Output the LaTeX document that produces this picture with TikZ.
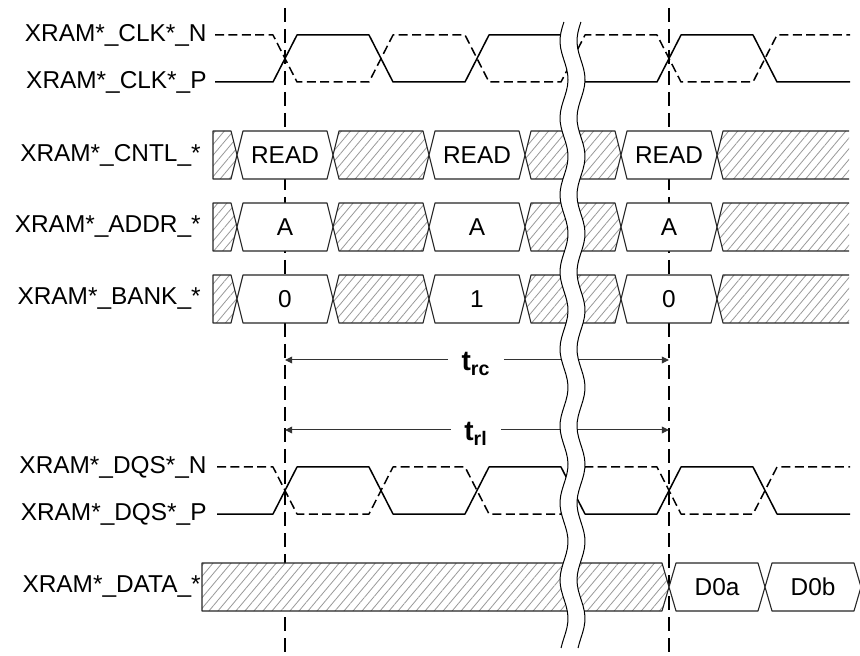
\documentclass[tikz,border=0pt]{standalone}
\usepackage{fontspec}
\setmainfont{Liberation Sans}
\usetikzlibrary{arrows.meta,patterns.meta}

\tikzset{
  sig/.style={line width=0.75pt, line join=round},
  sigdash/.style={sig, dash pattern=on 4.5pt off 2.2pt},
  marker/.style={line width=0.8pt, dash pattern=on 7pt off 3.5pt},
  hatch/.style={preaction={fill=white}, pattern={Lines[angle=50,distance=3.45pt,line width=0.4pt]}, pattern color=gray!80},
  busline/.style={line width=0.55pt, black!85, line join=round, fill=white},
  lbl/.style={anchor=east, inner sep=0pt, font=\fontsize{12.2}{14}\selectfont},
  val/.style={inner sep=0pt, font=\fontsize{12.2}{14}\selectfont},
  tlbl/.style={inner xsep=6.5pt, inner ysep=0pt, font=\fontsize{14}{16}\selectfont\bfseries},
  tarrow/.style={line width=0.5pt, black!80, -{Triangle[length=3.6pt,width=3.4pt]}},
}

% bus segment: start, end, centre, half width of the edge, style
\newcommand{\busseg}[5]{%
  \draw[busline,#5] (#1,#3) -- ({#1+#4},{#3-24}) -- ({#2-#4},{#3-24}) -- (#2,#3)
    -- ({#2-#4},{#3+24}) -- ({#1+#4},{#3+24}) -- cycle;}

% clock pair: top level, bottom level, first x
\newcommand{\clkpair}[3]{%
  \draw[sigdash] (#3,#1) -- (273,#1) -- (297,#2) -- (369,#2) -- (393,#1) -- (465,#1)
    -- (489,#2) -- (561,#2) -- (585,#1) -- (657,#1) -- (681,#2) -- (753,#2)
    -- (777,#1) -- (850,#1);
  \draw[sig] (#3,#2) -- (273,#2) -- (297,#1) -- (369,#1) -- (393,#2) -- (465,#2)
    -- (489,#1) -- (561,#1) -- (585,#2) -- (657,#2) -- (681,#1) -- (753,#1)
    -- (777,#2) -- (850,#2);}

\begin{document}
\begin{tikzpicture}[x=0.5pt, y=-0.5pt]
    \useasboundingbox (0,0) rectangle (860,656);

    % Labels
    \node[lbl] (clkn) at (207,35) {XRAM*\_CLK*\_N};
    \node[lbl] (clkp) at (207,82) {XRAM*\_CLK*\_P};
    \node[lbl] (cntl) at (201,155) {XRAM*\_CNTL\_*};
    \node[lbl] (addr) at (201,227) {XRAM*\_ADDR\_*};
    \node[lbl] (bank) at (201,299) {XRAM*\_BANK\_*};
    \node[lbl] (dqsn) at (207,467) {XRAM*\_DQS*\_N};
    \node[lbl] (dqsp) at (207,514) {XRAM*\_DQS*\_P};
    \node[lbl] (data) at (201,587) {XRAM*\_DATA\_*};

    % Reference lines
    \coordinate (mkAt) at (285,8);
    \coordinate (mkAb) at (285,656);
    \coordinate (mkBt) at (669,8);
    \coordinate (mkBb) at (669,652);
    \draw[marker] (mkAt) -- (mkAb);
    \draw[marker] (mkBt) -- (mkBb);

    % Clocks
    \clkpair{35}{82}{215}
    \clkpair{467}{514}{217}

    % Command, address, bank
    \foreach \yc/\nm/\va/\vb/\vc in {155/cntl/READ/READ/READ, 227/addr/A/A/A, 299/bank/0/1/0} {
        \draw[busline, hatch] (213,\yc-24) -- (231,\yc-24) -- (237,\yc) -- (231,\yc+24) -- (213,\yc+24) -- cycle;
        \busseg{237}{333}{\yc}{6}{}
        \busseg{333}{429}{\yc}{6}{hatch}
        \busseg{429}{525}{\yc}{6}{}
        \busseg{525}{621}{\yc}{6}{hatch}
        \busseg{621}{717}{\yc}{6}{}
        \fill[hatch] (849,\yc-24) -- (723,\yc-24) -- (717,\yc) -- (723,\yc+24) -- (849,\yc+24) -- cycle;
        \draw[busline, fill=none] (849,\yc-24) -- (723,\yc-24) -- (717,\yc) -- (723,\yc+24) -- (849,\yc+24);
        \node[val] (\nm a) at (285,\yc) {\va};
        \node[val] (\nm b) at (477,\yc) {\vb};
        \node[val] (\nm c) at (669,\yc) {\vc};
    }

    % Data
    \draw[busline, hatch] (202,563) -- (662,563) -- (669,587) -- (662,611) -- (202,611) -- cycle;
    \busseg{669}{765}{587}{7}{}
    \busseg{765}{861}{587}{7}{}
    \node[val] (d0a) at (717,587) {D0a};
    \node[val] (d0b) at (813,587) {D0b};

    % Timings
    \coordinate (rcL) at (285,360);
    \coordinate (rcR) at (669,360);
    \coordinate (rlL) at (285,430);
    \coordinate (rlR) at (669,430);
    \node[tlbl] (trc) at (476,364) {t\textsubscript{rc}};
    \node[tlbl] (trl) at (476,434) {t\textsubscript{rl}};
    \draw[tarrow] (trc.west |- rcL) -- (rcL);
    \draw[tarrow] (trc.east |- rcR) -- (rcR);
    \draw[tarrow] (trl.west |- rlL) -- (rlL);
    \draw[tarrow] (trl.east |- rlR) -- (rlR);

    % Break
    \fill[white] plot[domain=22:648, samples=120, variable=\t] ({564-4*cos(4.675*(\t-426))}, \t)
        -- plot[domain=648:22, samples=120, variable=\t] ({581-4*cos(4.675*(\t-426))}, \t) -- cycle;
    \draw[line width=0.5pt] plot[domain=22:648, samples=120, variable=\t] ({564-4*cos(4.675*(\t-426))}, \t);
    \draw[line width=0.5pt] plot[domain=22:648, samples=120, variable=\t] ({581-4*cos(4.675*(\t-426))}, \t);
\end{tikzpicture}
\end{document}
